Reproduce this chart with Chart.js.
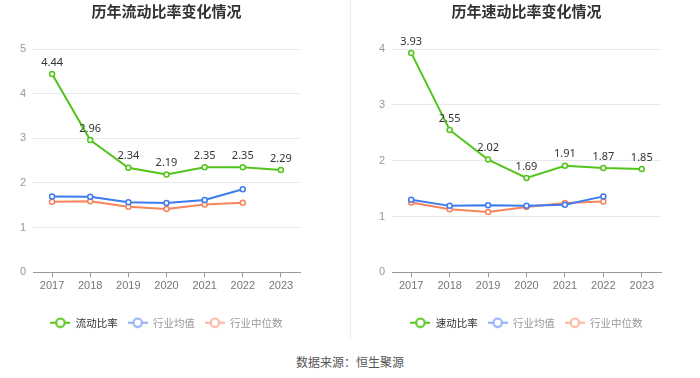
<!DOCTYPE html>
<html>
<head>
<meta charset="utf-8">
<script src="https://cdn.jsdelivr.net/npm/chart.js@4/dist/chart.umd.min.js"></script>
<style>
  body { margin: 0; width: 700px; height: 378px; background: #fff; font-family: "Noto Sans CJK SC", "Noto Sans", sans-serif; overflow: hidden; }
  .box { position: absolute; top: 0; height: 345px; width: 350px; }
  #left { left: 0; }
  #right { left: 351px; }
  #divider { position: absolute; left: 350px; top: 0; width: 1px; height: 340px; background: #eeeeee; }
  #source { position: absolute; left: 0; width: 700px; top: 353px; text-align: center; font-size: 12px; color: #555; }
</style>
</head>
<body>
<div class="box" id="left"><canvas id="currentChart"></canvas></div>
<div id="divider"></div>
<div class="box" id="right"><canvas id="quickChart"></canvas></div>
<div id="source">数据来源：恒生聚源</div>
<script>
const years = ['2017', '2018', '2019', '2020', '2021', '2022', '2023'];

// 流动比率
const currentRatio = [4.44, 2.96, 2.34, 2.19, 2.35, 2.35, 2.29];
const currentAvg = [1.70, 1.69, 1.57, 1.55, 1.62, 1.86, null];
const currentMedian = [1.58, 1.59, 1.47, 1.42, 1.52, 1.56, null];

// 速动比率
const quickRatio = [3.93, 2.55, 2.02, 1.69, 1.91, 1.87, 1.85];
const quickAvg = [1.30, 1.19, 1.20, 1.19, 1.21, 1.36, null];
const quickMedian = [1.25, 1.13, 1.08, 1.17, 1.24, 1.27, null];

const GREEN = '#52c41a';
const BLUE = '#3d7bf0';
const ORANGE = '#f7845a';

// little line-with-circle marker used in the legend
function legendMarker(color) {
    const c = document.createElement('canvas');
    c.width = 20;
    c.height = 12;
    const ctx = c.getContext('2d');
    ctx.strokeStyle = color;
    ctx.lineWidth = 2;
    ctx.beginPath();
    ctx.moveTo(0, 6);
    ctx.lineTo(20, 6);
    ctx.stroke();
    ctx.fillStyle = '#fff';
    ctx.beginPath();
    ctx.arc(10, 6, 4.2, 0, Math.PI * 2);
    ctx.fill();
    ctx.stroke();
    return c;
}

const valueLabels = {
    id: 'valueLabels',
    afterDatasetsDraw(chart) {
        const ctx = chart.ctx;
        const meta = chart.getDatasetMeta(0);
        const data = chart.data.datasets[0].data;
        ctx.save();
        ctx.font = '11px "Noto Sans", sans-serif';
        ctx.fillStyle = '#333';
        ctx.textAlign = 'center';
        ctx.textBaseline = 'bottom';
        meta.data.forEach((pt, i) => {
            if (data[i] == null) return;
            ctx.fillText(data[i].toFixed(2), pt.x, pt.y - 6);
        });
        ctx.restore();
    }
};

function makeChart(canvasId, title, mainLabel, mainData, avgData, medData, yMax, axisWidth, padRight) {
    const markers = [legendMarker(GREEN), legendMarker('#8fb0f7'), legendMarker('#fbb49a')];
    const textColors = ['#333', '#999', '#999'];
    const ds = (label, data, color) => ({
        label: label,
        data: data,
        borderColor: color,
        backgroundColor: '#fff',
        borderWidth: 2,
        pointRadius: 2.5,
        pointBorderWidth: 1.5,
        pointBackgroundColor: '#fff',
        tension: 0,
        spanGaps: false
    });
    return new Chart(document.getElementById(canvasId), {
        type: 'line',
        data: {
            labels: years,
            datasets: [
                ds(mainLabel, mainData, GREEN),
                ds('行业均值', avgData, BLUE),
                ds('行业中位数', medData, ORANGE)
            ]
        },
        options: {
            responsive: true,
            maintainAspectRatio: false,
            animation: false,
            layout: { padding: { top: 0, right: padRight, bottom: 7, left: 0 } },
            plugins: {
                title: {
                    display: true,
                    fullSize: false,
                    text: title,
                    color: '#333',
                    font: { size: 15, weight: 'bold', family: '"Noto Sans CJK SC", sans-serif' },
                    padding: { top: 2, bottom: 29 }
                },
                legend: {
                    position: 'bottom',
                    fullSize: false,
                    labels: {
                        usePointStyle: true,
                        pointStyleWidth: 20,
                        boxHeight: 10,
                        padding: 10,
                        font: { size: 10.5, family: '"Noto Sans CJK SC", sans-serif' },
                        generateLabels(chart) {
                            return chart.data.datasets.map((d, i) => ({
                                text: d.label,
                                pointStyle: markers[i],
                                fontColor: textColors[i],
                                strokeStyle: d.borderColor,
                                fillStyle: '#fff',
                                lineWidth: 0,
                                hidden: false,
                                datasetIndex: i
                            }));
                        }
                    }
                },
                tooltip: { enabled: false }
            },
            scales: {
                x: {
                    offset: true,
                    grid: { display: true, drawOnChartArea: false, drawTicks: true, tickLength: 5, offset: false, color: '#999' },
                    border: { color: '#999' },
                    ticks: { color: '#777', font: { size: 11 }, padding: 2 },
                    afterFit(scale) { scale.height += 13; }
                },
                y: {
                    min: 0,
                    max: yMax,
                    ticks: { stepSize: 1, color: '#999', font: { size: 11 }, padding: 7 },
                    grid: { color: '#e6e9f2', drawTicks: false },
                    border: { display: false },
                    afterFit(scale) { scale.width = axisWidth; }
                }
            }
        },
        plugins: [valueLabels]
    });
}

makeChart('currentChart', '历年流动比率变化情况', '流动比率', currentRatio, currentAvg, currentMedian, 5, 33, 50);
makeChart('quickChart', '历年速动比率变化情况', '速动比率', quickRatio, quickAvg, quickMedian, 4, 41, 40);
</script>
</body>
</html>
